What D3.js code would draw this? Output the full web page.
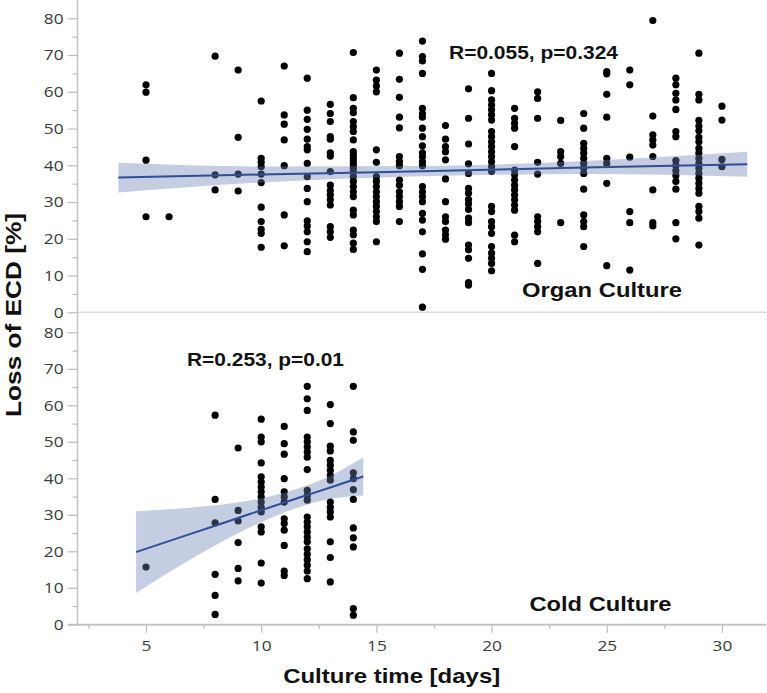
<!DOCTYPE html>
<html>
<head>
<meta charset="utf-8">
<script src="https://cdn.jsdelivr.net/npm/d3@7"></script>
<style>
  html, body { margin: 0; padding: 0; background: #fff; }
  svg { display: block; }
</style>
</head>
<body>
<svg id="chart" width="767" height="693"></svg>
<script>
// ---------------- DATA ----------------
const organDays = [5, 6, 8, 9, 10, 11, 12, 13, 14, 15, 16, 17, 18, 19, 20, 21, 22, 23, 24, 25, 26, 27, 28, 29, 30];
const organValues = [
  [61.9, 59.9, 41.4, 26],
  [26],
  [69.7, 37.4, 33.3],
  [65.9, 47.6, 37.6, 33],
  [57.5, 41.9, 40.8, 39.6, 37.6, 35.3, 28.6, 24.7, 22.6, 21.5, 17.7],
  [67, 53.7, 51.2, 46.9, 39.9, 26.5, 18.1],
  [63.7, 55, 52.5, 49.8, 47.1, 45.1, 44.2, 40.5, 36.9, 33.7, 30.1, 24.9, 23.5, 21.9, 19.2, 16.5],
  [56.6, 54.1, 51.9, 47.8, 47.1, 43.4, 42.5, 38.3, 34.6, 33.1, 31.9, 30.6, 29.2, 23.3, 21.9, 20.4],
  [70.7, 58.4, 55.5, 54.3, 51.9, 50.5, 49.2, 46.9, 43.7, 42.8, 41.9, 41, 40.1, 39.2, 38.3, 36.9, 35.6, 34.2, 32.8, 31.5, 27.8, 26.5, 22.4, 21.1, 18.8, 17.1],
  [65.9, 63.2, 61.6, 60, 44.2, 40.8, 36.9, 35.6, 34.2, 32.8, 31.5, 30.1, 28.8, 27.4, 26, 24.7, 19.2],
  [70.5, 63.4, 58.5, 53.1, 50.2, 42.4, 41, 39.9, 36, 34.6, 32.8, 31.5, 30.1, 28.8, 24.7],
  [73.8, 69.6, 68.4, 65, 55.5, 54.1, 53.1, 50.1, 47.8, 45.3, 43.4, 42.4, 41, 39.9, 34.2, 32.8, 31.5, 30.1, 26.9, 25.1, 21.9, 15.9, 11.7, 1.4],
  [50.8, 47.1, 45.1, 43.7, 41.5, 36.3, 30.1, 26, 24.7, 22.4, 21.1, 19.9],
  [60.8, 52.8, 45.8, 40.4, 37.8, 33.7, 32.4, 30.7, 29.5, 28, 25.6, 24.4, 18.3, 17, 14.7, 8.1, 7.4],
  [65, 60.3, 57.8, 56.4, 55.1, 53.7, 52.3, 49.2, 47.8, 46.4, 45.1, 43.7, 42.4, 41, 39.6, 38.3, 28.8, 27.4, 24.7, 23.3, 21.5, 17.9, 16.1, 14.7, 13.3, 11.3],
  [55.5, 52.8, 51.4, 50.1, 45.1, 38.7, 37.4, 36, 34.6, 33.3, 31.9, 30.6, 29.2, 27.8, 21, 19.2],
  [60, 58.2, 52.8, 40.8, 37.6, 26, 24.7, 23.3, 21.9, 13.3],
  [52.2, 43.7, 42.4, 40.5, 24.4],
  [54.1, 50.1, 46, 44.6, 43.3, 41.9, 40.5, 39.2, 37.8, 33.5, 26.5, 24.7, 23.3, 17.9],
  [65.5, 64.9, 59.3, 53.1, 41.9, 40.5, 35.1, 12.7],
  [65.9, 61.9, 42.2, 27.4, 24.4, 11.5],
  [79.4, 53.4, 48.3, 46.9, 45.5, 42.4, 33.3, 24.4, 23.5],
  [63.7, 61.9, 59.6, 57.8, 55.2, 49.2, 47.8, 41.3, 39.9, 38.5, 37.2, 35.6, 33.5, 24.4, 20],
  [70.5, 59.3, 57.8, 52.2, 50.7, 49.4, 47.6, 46.4, 44.6, 43.3, 41.9, 40.5, 39.2, 37.8, 36.5, 35.1, 33.7, 32.4, 28.8, 27.4, 25.6, 18.3],
  [56.1, 52.3, 41.6, 39.6]
];

const coldDays = [5, 8, 9, 10, 11, 12, 13, 14];
const coldValues = [
  [15.7],
  [57.3, 34.2, 27.8, 13.7, 7.9, 2.7],
  [48.3, 31.2, 28.3, 22.4, 15.3, 11.9],
  [56.2, 51.3, 50, 44.2, 40.4, 39, 37.6, 36.3, 34.9, 33.5, 32.1, 30.8, 26.7, 25.3, 16.8, 11.3],
  [54.2, 49.5, 46.6, 39.9, 36.3, 34.9, 33.5, 28.9, 27.6, 25.8, 21.6, 14.6, 13.4],
  [65.2, 61.8, 58.6, 51.3, 50, 48.6, 47.2, 45.8, 42.4, 36.7, 35.3, 34, 29.4, 28, 26.7, 25.3, 23.9, 22.6, 20.7, 19.2, 17.7, 16.2, 14.6, 12.5],
  [60.2, 55, 48.8, 47.5, 44.9, 43.6, 42.2, 40.8, 39.5, 33.5, 32.1, 30.8, 29.4, 22.6, 18.3, 11.6],
  [65.2, 52.7, 50.4, 41.5, 39.9, 36.9, 34.2, 26.4, 23.7, 21.2, 4.3, 2.5]
];

// regression fit lines and confidence bands
const organFitX = [3.8, 10, 17, 24, 31.1];
const organFit = [36.7, 37.5, 38.4, 39.4, 40.3];
const organLow = [32.6, 35.3, 37.0, 37.6, 36.9];
const organHigh = [40.7, 39.7, 39.8, 41.2, 43.7];

const coldFitX = [4.57, 7, 9.5, 11.5, 13, 14.43];
const coldFit = [19.8, 24.9, 30.2, 34.4, 37.5, 40.5];
const coldLow = [8.6, 18, 26.5, 31.8, 34.3, 35.3];
const coldHigh = [31, 32, 33.9, 37, 40.7, 45.8];

const yTicks = [0, 10, 20, 30, 40, 50, 60, 70, 80];
const yMinorTicks = [5, 15, 25, 35, 45, 55, 65, 75];
const xTicks = [5, 10, 15, 20, 25, 30];
const xMinorTicks = [2.5, 7.5, 12.5, 17.5, 22.5, 27.5];

const labels = {
  organStat: "R=0.055, p=0.324",
  organName: "Organ Culture",
  coldStat: "R=0.253, p=0.01",
  coldName: "Cold Culture",
  yTitle: "Loss of ECD [%]",
  xTitle: "Culture time [days]"
};

// ---------------- DRAWING ----------------
const svg = d3.select("#chart");
svg.append("rect").attr("width", 767).attr("height", 693).attr("fill", "#fff");

const x = d3.scaleLinear().domain([2, 32]).range([76.9, 768]);
const yTop = d3.scaleLinear().domain([0, 80]).range([312.3, 18.3]);
const yBot = d3.scaleLinear().domain([0, 80]).range([624.3, 332.3]);

const axisX0 = 77.5;
const tickFont = "'Open Sans', 'Noto Sans', sans-serif";
const boldFont = "'Liberation Sans', Arial, sans-serif";
const sx = 1.15;

// grid / axis lines
svg.append("line").attr("x1", axisX0).attr("x2", 766).attr("y1", yTop(0)).attr("y2", yTop(0))
  .attr("stroke", "#d9d9d9").attr("stroke-width", 1.5);
svg.append("line").attr("x1", axisX0).attr("x2", axisX0).attr("y1", 0).attr("y2", yBot(0))
  .attr("stroke", "#c4c4c4").attr("stroke-width", 1.5);
svg.append("line").attr("x1", 68).attr("x2", 766).attr("y1", yBot(0) + 0.5).attr("y2", yBot(0) + 0.5)
  .attr("stroke", "#c4c4c4").attr("stroke-width", 2);

function styleAxis(g) {
  g.select(".domain").remove();
  g.selectAll(".tick line").attr("stroke", "#bdbdbd").attr("stroke-width", 1.2);
  g.selectAll(".tick text").attr("fill", "#3a3a3a")
    .style("font-family", tickFont).style("font-size", "15px");
}

function yAxes(scale) {
  const gMaj = svg.append("g").attr("transform", `translate(${axisX0},0)`)
    .call(d3.axisLeft(scale).tickValues(yTicks).tickSize(10).tickPadding(4).tickFormat(d3.format("d")));
  styleAxis(gMaj);
  gMaj.selectAll(".tick text").attr("x", -14 / sx).attr("transform", `scale(${sx},1)`);
  const gMin = svg.append("g").attr("transform", `translate(${axisX0},0)`)
    .call(d3.axisLeft(scale).tickValues(yMinorTicks).tickSize(5).tickFormat(""));
  styleAxis(gMin);
}
yAxes(yTop);
yAxes(yBot);

const gx = svg.append("g").attr("transform", `translate(0,${yBot(0) + 0.5})`)
  .call(d3.axisBottom(x).tickValues(xTicks).tickSize(8).tickPadding(8).tickFormat(d3.format("d")));
styleAxis(gx);
gx.selectAll(".tick text").attr("transform", `scale(${sx},1)`).attr("x", 0);
const gxm = svg.append("g").attr("transform", `translate(0,${yBot(0) + 0.5})`)
  .call(d3.axisBottom(x).tickValues(xMinorTicks).tickSize(4).tickFormat(""));
styleAxis(gxm);

// points
function flatten(days, vals) {
  const out = [];
  days.forEach((d, i) => vals[i].forEach(v => out.push({ d, v })));
  return out;
}
function drawPanel(days, vals, fx, fit, low, high, yScale) {
  const pts = flatten(days, vals);
  svg.append("g").selectAll("circle").data(pts).join("circle")
    .attr("cx", p => x(p.d)).attr("cy", p => yScale(p.v)).attr("r", 3.6).attr("fill", "#000");
  const band = fx.map((d, i) => ({ d, lo: low[i], hi: high[i] }));
  svg.append("path").datum(band)
    .attr("d", d3.area().x(b => x(b.d)).y0(b => yScale(b.lo)).y1(b => yScale(b.hi)).curve(d3.curveMonotoneX))
    .attr("fill", "rgb(110,130,185)").attr("fill-opacity", 0.4);
  const line = fx.map((d, i) => ({ d, v: fit[i] }));
  svg.append("path").datum(line)
    .attr("d", d3.line().x(b => x(b.d)).y(b => yScale(b.v)).curve(d3.curveMonotoneX))
    .attr("fill", "none").attr("stroke", "#2f4e96").attr("stroke-width", 2);
}
drawPanel(organDays, organValues, organFitX, organFit, organLow, organHigh, yTop);
drawPanel(coldDays, coldValues, coldFitX, coldFit, coldLow, coldHigh, yBot);

// annotations
function boldText(str, xPos, yPos, size, len) {
  svg.append("text").attr("x", xPos).attr("y", yPos).text(str)
    .attr("font-family", boldFont).attr("font-weight", "bold").attr("font-size", size)
    .attr("fill", "#111").attr("textLength", len).attr("lengthAdjust", "spacingAndGlyphs");
}
boldText(labels.organStat, 449, 59, 19, 169);
boldText(labels.organName, 522, 297, 21, 160);
boldText(labels.coldStat, 187, 365.5, 19, 157);
boldText(labels.coldName, 529.5, 610.5, 21, 142);

svg.append("text").attr("transform", "translate(21,315) rotate(-90)")
  .attr("text-anchor", "middle").text(labels.yTitle)
  .attr("font-family", boldFont).attr("font-weight", "bold").attr("font-size", 22)
  .attr("fill", "#111").attr("textLength", 204).attr("lengthAdjust", "spacingAndGlyphs");

svg.append("text").attr("x", 391.7).attr("y", 683).attr("text-anchor", "middle").text(labels.xTitle)
  .attr("font-family", boldFont).attr("font-weight", "bold").attr("font-size", 21)
  .attr("fill", "#111").attr("textLength", 217).attr("lengthAdjust", "spacingAndGlyphs");
</script>
</body>
</html>
